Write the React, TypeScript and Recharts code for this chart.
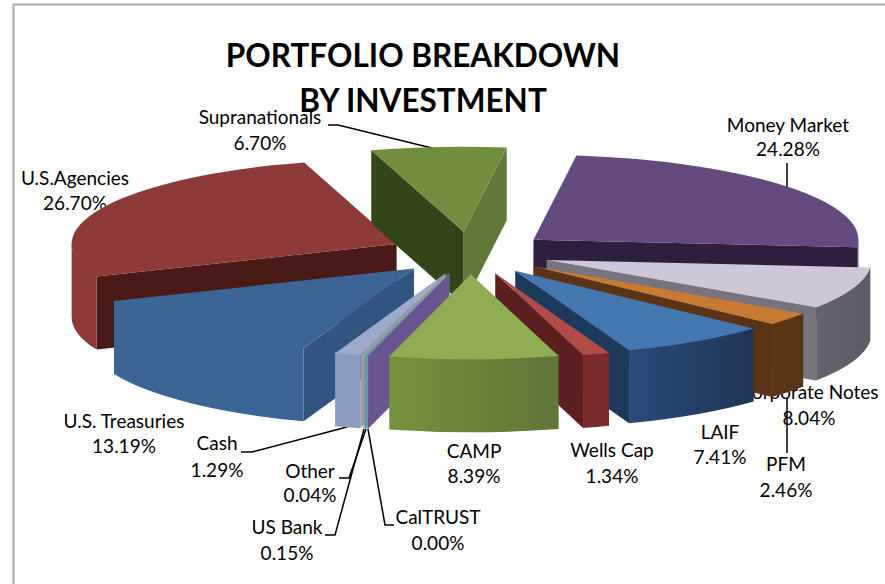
import React from 'react';
import { PieChart, Pie } from 'recharts';

const categories = ['Money Market', 'Corporate Notes', 'PFM', 'LAIF', 'Wells Cap', 'CAMP', 'CalTRUST', 'US Bank', 'Other', 'Cash', 'U.S. Treasuries', 'U.S.Agencies', 'Supranationals'];
const shares = [24.28, 8.04, 2.46, 7.41, 1.34, 8.39, 0.0, 0.15, 0.04, 1.29, 13.19, 26.7, 6.7];

// painter's order, back to front
const drawOrder = ['U.S.Agencies', 'Money Market', 'Supranationals', 'Corporate Notes', 'PFM', 'LAIF', 'Wells Cap', 'U.S. Treasuries', 'Cash', 'Other', 'US Bank', 'CalTRUST', 'CAMP'];

// top face, start wall, end wall, arc wall left, arc wall right
const sliceColors: Record<string, string[]> = {
  'Money Market': ['#644a7e', '#2e1f3f', '#2e1f3f', '#4a3560', '#4a3560'],
  'Corporate Notes': ['#cdc7d8', '#77747d', '#77747d', '#67636c', '#5f5b65'],
  PFM: ['#c67a32', '#5a3414', '#5a3414', '#5e3614', '#5a3414'],
  LAIF: ['#4277b0', '#1c3a5c', '#1c3a5c', '#2a4c7c', '#1f3555'],
  'Wells Cap': ['#b14b48', '#5a1f1e', '#5a1f1e', '#7c2c2c', '#7c2c2c'],
  CAMP: ['#8fad52', '#5e7535', '#5e7535', '#76923f', '#5f7635'],
  CalTRUST: ['#6a5590', '#6a5590', '#6a5590', '#6a5590', '#6a5590'],
  'US Bank': ['#5f9aa8', '#5f9aa8', '#5f9aa8', '#5f9aa8', '#5f9aa8'],
  Other: ['#9a9ca4', '#9a9ca4', '#9a9ca4', '#9a9ca4', '#9a9ca4'],
  Cash: ['#9aa9cc', '#9a9ca4', '#9a9ca4', '#8b9ac0', '#8b9ac0'],
  'U.S. Treasuries': ['#3a6595', '#315580', '#315580', '#3a6595', '#3a6595'],
  'U.S.Agencies': ['#8e3a38', '#4a1a17', '#4a1a17', '#8e3a38', '#8e3a38'],
  Supranationals: ['#718e3e', '#344519', '#5f7a36', '#5f7a36', '#5f7a36'],
};

// label centre x, first line y, second line y
const labelSpots: Record<string, number[]> = {
  'Money Market': [788, 127, 151],
  'Corporate Notes': [809, 394, 420],
  PFM: [786, 466, 492],
  LAIF: [720, 434, 459],
  'Wells Cap': [612, 452, 478],
  CAMP: [474, 453, 478],
  CalTRUST: [438, 519, 545],
  'US Bank': [287, 529, 555],
  Other: [310, 473, 497],
  Cash: [217, 445, 472],
  'U.S. Treasuries': [124, 423, 448],
  'U.S.Agencies': [75, 180, 205],
  Supranationals: [260, 119, 145],
};

const leaderLines = [
  '328,125 338,125 440,150',
  '787,163 787,187',
  '787,398 787,453',
  '241,452 252,452 347,427',
  '339,478 349,478 366,429',
  '325,535 335,535 364,429',
  '394,525 385,525 368,429',
];

const tableRows = categories.map((name, i) => ({ name, value: shares[i] }));

const CX = 470;
const CY = 253;
const RX = 325;
const RY = 85;
const EXPLODE = 0.25;
const DEPTH = 73;

const rad = (a: number) => (a * Math.PI) / 180;

// a is clockwise from 12 o'clock
const Slice3D = (props: any) => {
  const a0 = 90 - props.startAngle;
  const a1 = 90 - props.endAngle;
  const mid = (a0 + a1) / 2;
  const ax = props.cx + EXPLODE * RX * Math.sin(rad(mid));
  const ay = props.cy - EXPLODE * RY * Math.cos(rad(mid));
  const px = (a: number) => ax + RX * Math.sin(rad(a));
  const py = (a: number) => ay - RY * Math.cos(rad(a));
  const colors = sliceColors[props.name];
  const large = a1 - a0 > 180 ? 1 : 0;

  const radial = (a: number) =>
    `M${ax},${ay} L${px(a)},${py(a)} L${px(a)},${py(a) + DEPTH} L${ax},${ay + DEPTH} Z`;

  // only the part of the rim facing the viewer
  const w0 = Math.max(a0, 90);
  const w1 = Math.min(a1, 270);
  const rim =
    w1 >= w0
      ? `M${px(w0)},${py(w0) - 1} A${RX},${RY} 0 0 1 ${px(w1)},${py(w1) - 1} L${px(w1)},${py(w1) + DEPTH} A${RX},${RY} 0 0 0 ${px(w0)},${py(w0) + DEPTH} Z`
      : null;

  const startFacing = Math.sin(rad(a0)) < 0;
  const endFacing = Math.sin(rad(a1)) > 0;

  return (
    <g>
      {startFacing && <path d={radial(a0)} fill={colors[1]} />}
      {endFacing && <path d={radial(a1)} fill={colors[2]} />}
      {rim && <path d={rim} fill={`url(#rim-${categories.indexOf(props.name)})`} />}
      <path
        d={`M${ax},${ay} L${px(a0)},${py(a0)} A${RX},${RY} 0 ${large} 1 ${px(a1)},${py(a1)} Z`}
        fill={colors[0]}
      />
    </g>
  );
};

const onlySlice = (name: string) => (props: any) =>
  props.name === name ? <Slice3D {...props} /> : <g />;

const labelFont = 'Lato, sans-serif';

export default function App() {
  return (
    <div style={{ position: 'absolute', left: 0, top: 0, width: 885, height: 584, background: '#fff' }}>
      <PieChart width={885} height={584} margin={{ top: 0, right: 0, bottom: 0, left: 0 }}>
        <defs>
          {categories.map((name, i) => (
            <linearGradient key={name} id={`rim-${i}`} x1="0" y1="0" x2="1" y2="0">
              <stop offset="0%" stopColor={sliceColors[name][3]} />
              <stop offset="100%" stopColor={sliceColors[name][4]} />
            </linearGradient>
          ))}
        </defs>
        <polyline points="13.5,584 13.5,4.5 885,4.5" fill="none" stroke="#a6a6a6" strokeWidth={2} />
        {drawOrder.map((name) => (
          <Pie
            key={name}
            data={tableRows}
            dataKey="value"
            nameKey="name"
            cx={CX}
            cy={CY}
            innerRadius={0}
            outerRadius={RX}
            startAngle={82.4}
            endAngle={-277.6}
            stroke="none"
            isAnimationActive={false}
            shape={onlySlice(name)}
            activeShape={onlySlice(name)}
            inactiveShape={onlySlice(name)}
          />
        ))}
        <text x={423} y={67} textAnchor="middle" fontFamily={labelFont} fontWeight={700} fontSize={31.5} fill="#000">
          PORTFOLIO BREAKDOWN
        </text>
        <text x={423} y={112} textAnchor="middle" fontFamily={labelFont} fontWeight={700} fontSize={31.5} fill="#000">
          BY INVESTMENT
        </text>
        {leaderLines.map((pts) => (
          <polyline key={pts} points={pts} fill="none" stroke="#000" strokeWidth={1.5} />
        ))}
        {categories.map((name, i) => (
          <g key={name} fontFamily={labelFont} fontSize={19} fill="#000" textAnchor="middle">
            <text x={labelSpots[name][0]} y={labelSpots[name][1]} dominantBaseline="middle">{name}</text>
            <text x={labelSpots[name][0]} y={labelSpots[name][2]} dominantBaseline="middle">{`${shares[i].toFixed(2)}%`}</text>
          </g>
        ))}
      </PieChart>
    </div>
  );
}
